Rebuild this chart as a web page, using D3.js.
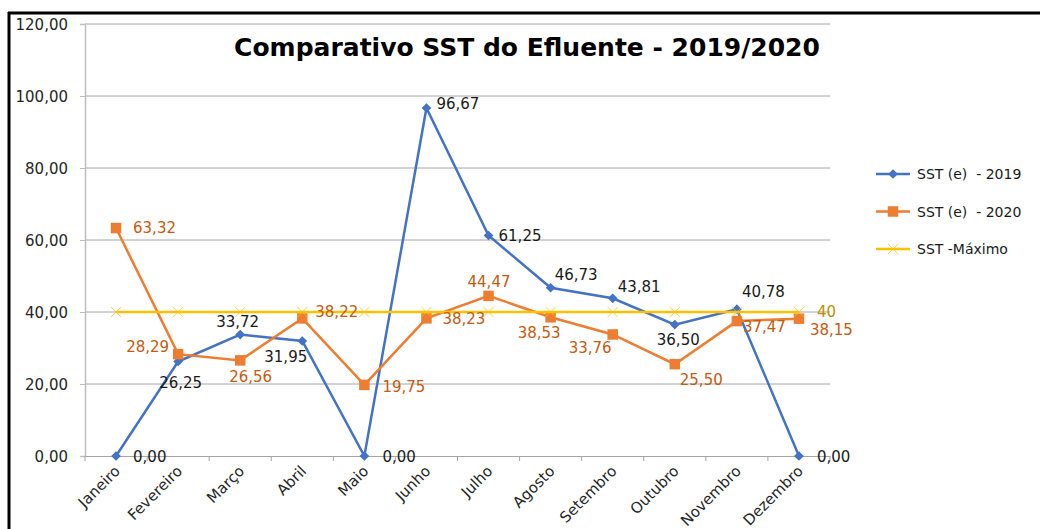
<!doctype html>
<html>
<head>
<meta charset="utf-8">
<script src="https://d3js.org/d3.v7.min.js"></script>
<style>
body { margin:0; background:#fff; }
text { font-family: 'DejaVu Sans', sans-serif; }
</style>
</head>
<body>
<div id="chart"></div>
<script>
// data
var months = ["Janeiro","Fevereiro","Março","Abril","Maio","Junho","Julho","Agosto","Setembro","Outubro","Novembro","Dezembro"];
var sst2019 = [0, 26.25, 33.72, 31.95, 0, 96.67, 61.25, 46.73, 43.81, 36.50, 40.78, 0];
var sst2020 = [63.32, 28.29, 26.56, 38.22, 19.75, 38.23, 44.47, 38.53, 33.76, 25.50, 37.47, 38.15];
var sstMax  = [40, 40, 40, 40, 40, 40, 40, 40, 40, 40, 40, 40];
var yTicks  = [0, 20, 40, 60, 80, 100, 120];
var seriesNames = ["SST (e)  - 2019", "SST (e)  - 2020", "SST -Máximo"];

// label offsets (dx, dy) relative to each point, like the dragged Excel labels
var off2019 = [[17,6],[-19,26],[-24,-8],[-38,21],[18,6],[10,1],[10,5],[4,-8],[5,-6],[-18,20],[5,-12],[18,6]];
var off2020 = [[17,5],[-52,-2],[-11,22],[13,-1],[18,7],[16,6],[-21,-9],[-33,21],[-44,19],[5,21],[6,11],[11,16]];

var W = 1040, H = 529;
var svg = d3.select("#chart").append("svg").attr("width", W).attr("height", H);

// frame
svg.append("line").attr("x1",8).attr("x2",W).attr("y1",13).attr("y2",13)
  .attr("stroke","#000").attr("stroke-width",3);
svg.append("line").attr("x1",9).attr("x2",9).attr("y1",12).attr("y2",H)
  .attr("stroke","#000").attr("stroke-width",3);

var x = d3.scaleBand().domain(months).range([85, 830]);
var y = d3.scaleLinear().domain([0, 120]).range([456, 24]);
var cx = function(i){ return x(months[i]) + x.bandwidth()/2; };
var fmt = function(v){ return d3.format(".2f")(v).replace(".", ","); };

// gridlines
svg.append("g").selectAll("line").data(yTicks.filter(function(d){return d>0;})).enter()
  .append("line")
  .attr("x1",85).attr("x2",830)
  .attr("y1",function(d){return y(d);}).attr("y2",function(d){return y(d);})
  .attr("stroke","#a6a6a6").attr("stroke-width",1);

// y axis
var yAxis = svg.append("g").attr("transform","translate(85,0)")
  .call(d3.axisLeft(y).tickValues(yTicks).tickSize(5).tickFormat(fmt));
yAxis.select(".domain").attr("stroke","#bfbfbf").attr("stroke-width",1.5);
yAxis.selectAll(".tick line").attr("stroke","#bfbfbf");
yAxis.selectAll(".tick text").attr("x",-17).attr("dy","0.35em")
  .style("font-family","'DejaVu Sans'").style("font-size","15px").attr("fill","#262626");

// x axis
var xAxis = svg.append("g").attr("transform","translate(0,456)")
  .call(d3.axisBottom(x).tickSize(0).tickFormat(""));
xAxis.select(".domain").attr("stroke","#a6a6a6").attr("stroke-width",1);
svg.append("g").selectAll("line").data(months.concat(["end"])).enter().append("line")
  .attr("x1",function(d,i){return 85 + i*x.bandwidth();})
  .attr("x2",function(d,i){return 85 + i*x.bandwidth();})
  .attr("y1",456).attr("y2",461).attr("stroke","#a6a6a6");
svg.append("g").selectAll("text").data(months).enter().append("text")
  .attr("transform",function(d,i){return "translate("+(cx(i)+5)+",472) rotate(-45)";})
  .attr("text-anchor","end")
  .style("font-size","15px").attr("fill","#262626")
  .text(function(d){return d;});

// title
svg.append("text").attr("x",527).attr("y",56).attr("text-anchor","middle")
  .style("font-size","25px").style("font-weight","bold").attr("fill","#000")
  .text("Comparativo SST do Efluente - 2019/2020");

var line = d3.line().x(function(d,i){return cx(i);}).y(function(d){return y(d);});

function diamond(g, px, py, color){
  g.append("path").attr("d", d3.symbol().type(d3.symbolDiamond2).size(60)())
    .attr("transform","translate("+px+","+py+")").attr("fill",color);
}
function square(g, px, py, color){
  g.append("path").attr("d", d3.symbol().type(d3.symbolSquare).size(110)())
    .attr("transform","translate("+px+","+py+")").attr("fill",color);
}
function cross(g, px, py, color){
  g.append("path").attr("d", d3.symbol().type(d3.symbolX).size(70)())
    .attr("transform","translate("+px+","+py+")").attr("stroke",color)
    .attr("stroke-width",1).attr("fill","none").attr("opacity",0.7);
}

var blue = "#4472c4", orange = "#ed7d31", yellow = "#ffc000";

// 2019
var g1 = svg.append("g");
g1.append("path").datum(sst2019).attr("d",line).attr("fill","none")
  .attr("stroke",blue).attr("stroke-width",2.5);
sst2019.forEach(function(v,i){ diamond(g1, cx(i), y(v), blue); });

// 2020
var g2 = svg.append("g");
g2.append("path").datum(sst2020).attr("d",line).attr("fill","none")
  .attr("stroke",orange).attr("stroke-width",2.5);
sst2020.forEach(function(v,i){ square(g2, cx(i), y(v), orange); });

// max
var g3 = svg.append("g");
g3.append("path").datum(sstMax).attr("d",line).attr("fill","none")
  .attr("stroke",yellow).attr("stroke-width",2.5);
sstMax.forEach(function(v,i){ cross(g3, cx(i), y(v), yellow); });

// data labels
svg.append("g").selectAll("text").data(sst2019).enter().append("text")
  .attr("x",function(d,i){return cx(i)+off2019[i][0];})
  .attr("y",function(d,i){return y(d)+off2019[i][1];})
  .style("font-size","15px").attr("fill","#1a1a1a")
  .text(fmt);
svg.append("g").selectAll("text").data(sst2020).enter().append("text")
  .attr("x",function(d,i){return cx(i)+off2020[i][0];})
  .attr("y",function(d,i){return y(d)+off2020[i][1];})
  .style("font-size","15px").attr("fill","#c55a11")
  .text(fmt);
svg.append("text").attr("x",cx(11)+18).attr("y",y(sstMax[11])+5)
  .style("font-size","15px").attr("fill","#bf9000")
  .text(sstMax[11]);

// legend
var lg = svg.append("g");
var markers = [diamond, square, cross];
var colors = [blue, orange, yellow];
seriesNames.forEach(function(name,i){
  var ly = 174 + i*37.5;
  lg.append("line").attr("x1",876).attr("x2",910).attr("y1",ly).attr("y2",ly)
    .attr("stroke",colors[i]).attr("stroke-width",2.5);
  markers[i](lg, 893, ly, colors[i]);
  lg.append("text").attr("x",917).attr("y",ly+5).style("font-size","14px")
    .attr("fill","#1a1a1a").attr("xml:space","preserve").style("white-space","pre").text(name);
});
</script>
</body>
</html>
